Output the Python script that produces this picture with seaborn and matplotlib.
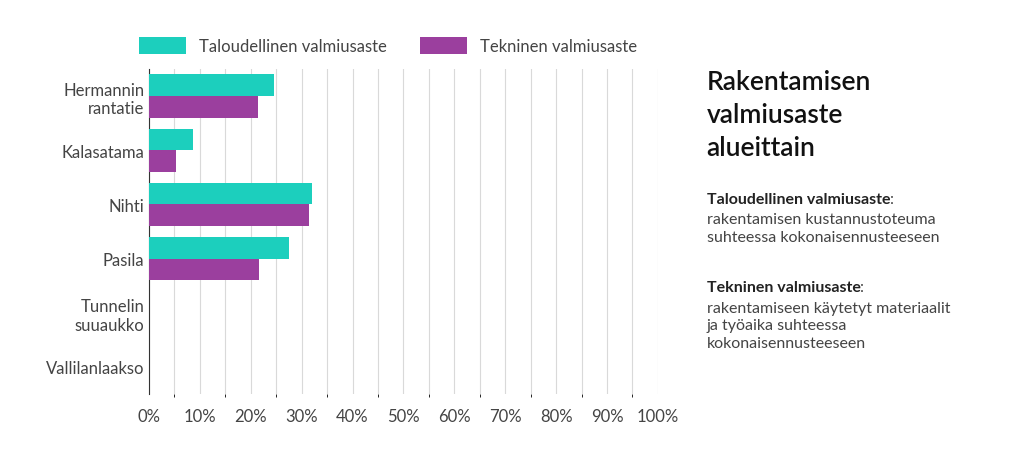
import matplotlib
matplotlib.use("Agg")
import matplotlib.pyplot as plt
import seaborn as sns
import pandas as pd
from matplotlib.ticker import MultipleLocator, FuncFormatter

areas = ["Hermannin\nrantatie", "Kalasatama", "Nihti", "Pasila", "Tunnelin\nsuuaukko", "Vallilanlaakso"]
taloudellinen = [24.6, 8.6, 32.0, 27.5, 0, 0]
tekninen = [21.4, 5.3, 31.4, 21.6, 0, 0]
series = ["Taloudellinen valmiusaste", "Tekninen valmiusaste"]
colors = ["#1ccfbd", "#9b3f9e"]

df = pd.DataFrame({
    "area": areas * 2,
    "value": taloudellinen + tekninen,
    "series": [series[0]] * len(areas) + [series[1]] * len(areas),
})

plt.rcParams["font.family"] = "Lato"
fig = plt.figure(figsize=(10.24, 4.64), dpi=100)
ax = fig.add_axes([0.1455, 0.149, 0.497, 0.70])

sns.barplot(data=df, y="area", x="value", hue="series", palette=colors,
            orient="h", width=0.8, saturation=1, ax=ax, zorder=3)

ax.set_xlim(0, 100)
ax.xaxis.set_major_locator(MultipleLocator(10))
ax.xaxis.set_minor_locator(MultipleLocator(5))
ax.xaxis.set_major_formatter(FuncFormatter(lambda v, p: f"{v:.0f}%"))
ax.grid(axis="x", which="both", color="#d9d9d9", linewidth=0.8, zorder=0)
ax.set_xlabel("")
ax.set_ylabel("")
for s in ["top", "right", "bottom"]:
    ax.spines[s].set_visible(False)
ax.spines["left"].set_color("#333333")
ax.tick_params(axis="both", length=0, labelsize=12, colors="#444444")
ax.tick_params(axis="x", pad=10)

ax.legend(loc="lower center", bbox_to_anchor=(0.47, 1.0), ncol=2, frameon=False,
          fontsize=12, handlelength=2.8, handleheight=1.2, columnspacing=2.0,
          labelcolor="#444444")

fig.text(0.69, 0.85, "Rakentamisen\nvalmiusaste\nalueittain", fontsize=19,
         fontweight="semibold", color="#111111", va="top", linespacing=1.4)


def label_block(y, head, body):
    t = fig.text(0.69, y, head, fontsize=11.5, fontweight="bold", color="#222222", va="top")
    ax.annotate(":", xy=(1, 0), xycoords=t, va="bottom", fontsize=11.5, color="#444444")
    fig.text(0.69, y - 0.045, body, fontsize=11.5, color="#444444", va="top", linespacing=1.35)


label_block(0.585, "Taloudellinen valmiusaste",
            "rakentamisen kustannustoteuma\nsuhteessa kokonaisennusteeseen")
label_block(0.395, "Tekninen valmiusaste",
            "rakentamiseen käytetyt materiaalit\nja työaika suhteessa\nkokonaisennusteeseen")

fig.savefig("out.png", dpi=100)
